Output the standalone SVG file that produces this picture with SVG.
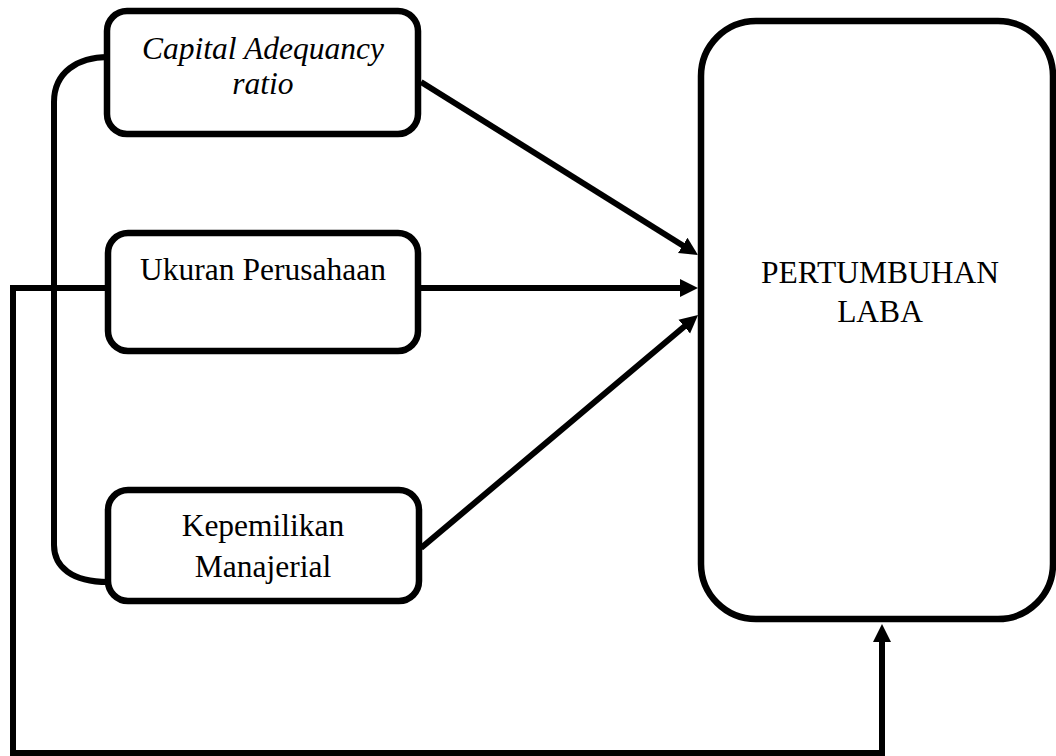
<svg xmlns="http://www.w3.org/2000/svg" width="1056" height="756" viewBox="0 0 1056 756">
<style>
.box{fill:#fff;stroke:#000;stroke-width:6.5}
.con{fill:none;stroke:#000;stroke-width:6;stroke-linejoin:miter}
.t{font-family:"Liberation Serif","Times New Roman",serif;font-size:31.5px;fill:#000;text-anchor:middle}
.i{font-style:italic}
</style>
<defs>
<marker id="ah" markerUnits="userSpaceOnUse" markerWidth="20" markerHeight="20" refX="2" refY="9" orient="auto" viewBox="0 0 20 18">
<path d="M0,0 L18,9 L0,18 z" fill="#000"/>
</marker>
</defs>
<rect width="1056" height="756" fill="#fff"/>
<g id="connectors">
<path class="con" d="M108,57 C78,57 54,72 54,102 L54,545 C54,567 72,582 108,582"/>
<path class="con" d="M108,288 L13,288 L13,753 L882,753 L882,640" marker-end="url(#ah)"/>
<line class="con" x1="421" y1="82" x2="684.4" y2="246.5" marker-end="url(#ah)"/>
<line class="con" x1="421" y1="288" x2="682" y2="288" marker-end="url(#ah)"/>
<line class="con" x1="421" y1="548" x2="685.8" y2="325.3" marker-end="url(#ah)"/>
</g>
<g id="car">
<rect class="box" x="107" y="11" width="311" height="123" rx="20"/>
<text class="t i" x="263" y="59">Capital Adequancy</text>
<text class="t i" x="263" y="94">ratio</text>
</g>
<g id="ukuran">
<rect class="box" x="108" y="233" width="310" height="118" rx="20"/>
<text class="t" x="263" y="280">Ukuran Perusahaan</text>
</g>
<g id="kepemilikan">
<rect class="box" x="108" y="490" width="311" height="111" rx="20"/>
<text class="t" x="263" y="536">Kepemilikan</text>
<text class="t" x="263" y="577">Manajerial</text>
</g>
<g id="laba">
<rect class="box" x="701" y="21" width="352" height="598" rx="55"/>
<text class="t" x="880" y="283">PERTUMBUHAN</text>
<text class="t" x="880" y="322">LABA</text>
</g>
</svg>
